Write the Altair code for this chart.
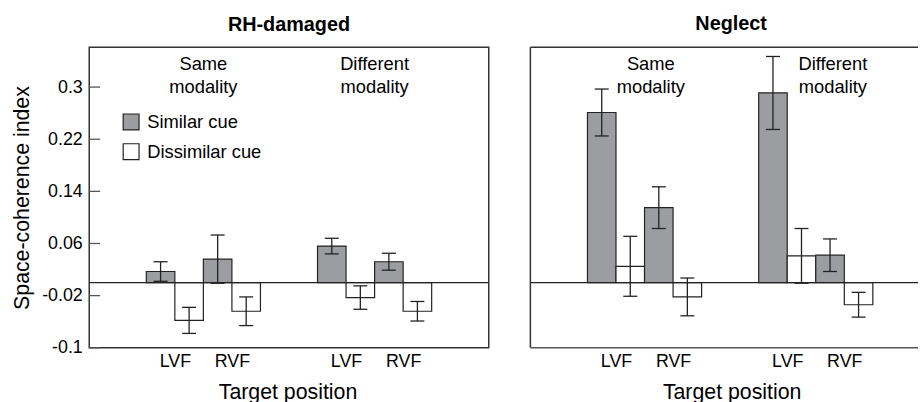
import altair as alt
import pandas as pd

# ---------------- data ----------------
groups = ["RH-damaged", "Neglect"]
modalities = ["Same", "Different"]
fields = ["LVF", "RVF"]
cues = ["Similar cue", "Dissimilar cue"]

# order: Same-LVF-sim, Same-LVF-dis, Same-RVF-sim, Same-RVF-dis, Diff-LVF-sim, ...
rh_mean = [0.017, -0.058, 0.036, -0.044, 0.056, -0.023, 0.032, -0.044]
rh_err = [0.015, 0.020, 0.037, 0.022, 0.012, 0.018, 0.013, 0.015]
ng_mean = [0.261, 0.025, 0.115, -0.022, 0.291, 0.041, 0.042, -0.034]
ng_err = [0.036, 0.046, 0.032, 0.029, 0.056, 0.042, 0.025, 0.019]

y_ticks = [-0.1, -0.02, 0.06, 0.14, 0.22, 0.3]

FONT = "Liberation Sans"
INK = "#222222"
GRAY = "#9c9da1"
H = 303
SLOT = 403 / 14


def build(means, errs):
    rows = []
    for i, m in enumerate(modalities):
        for j, f in enumerate(fields):
            for k, c in enumerate(cues):
                idx = i * 4 + j * 2 + k
                slot = 2 + 6 * i + 2 * j + k
                v, e = means[idx], errs[idx]
                rows.append(dict(modality=m, field=f, cue=c, mean=v,
                                 x0=slot, x1=slot + 1, xc=slot + 0.5,
                                 cl=slot + 0.255, cr=slot + 0.745,
                                 lo=v - e, hi=v + e))
    return pd.DataFrame(rows)


pair_centers = [2 + 6 * i + 2 * j + 1 for i in range(2) for j in range(2)]


def panel(name, means, errs, width, text_nudge, show_y, title_dx, title_x, frame_rules):
    df = build(means, errs)
    xmax = width / SLOT
    xs = alt.Scale(domain=[0, xmax], nice=False, zero=False)
    ys = alt.Scale(domain=[-0.1, 0.361], nice=False, zero=False)
    xaxis = alt.Axis(values=pair_centers,
                     labelExpr="datum.value % 6 == 3 ? 'LVF' : 'RVF'",
                     ticks=False, domain=False, grid=False,
                     labelPadding=5, title="Target position",
                     titleX=title_x, titlePadding=11)
    if show_y:
        yaxis = alt.Axis(values=y_ticks, ticks=False, domain=False, grid=False,
                         labelExpr="replace(format(datum.value, '~g'), '\u2212', '-')",
                         labelPadding=7, title="Space-coherence index",
                         titlePadding=8)
    else:
        yaxis = None
    fill = alt.Fill("cue:N", scale=alt.Scale(domain=cues, range=[GRAY, "white"]),
                    legend=alt.Legend(orient="none", legendX=33, legendY=66,
                                      title=None, symbolType="square",
                                      symbolSize=256, symbolStrokeColor=INK,
                                      symbolStrokeWidth=1.2, labelFontSize=18.5,
                                      labelOffset=7, rowPadding=8,
                                      labelColor="black", labelFont=FONT))
    base = alt.Chart(df)
    bars = base.mark_bar(stroke=INK, strokeWidth=1.2).encode(
        x=alt.X("x0:Q", scale=xs, axis=xaxis),
        x2="x1:Q",
        y=alt.Y("mean:Q", scale=ys, axis=yaxis),
        y2=alt.datum(0),
        fill=fill,
    )
    whisk = base.mark_rule(color=INK, strokeWidth=1.3).encode(
        x="xc:Q", y="lo:Q", y2="hi:Q")
    cap_hi = base.mark_rule(color=INK, strokeWidth=1.3).encode(
        x="cl:Q", x2="cr:Q", y="hi:Q")
    cap_lo = base.mark_rule(color=INK, strokeWidth=1.3).encode(
        x="cl:Q", x2="cr:Q", y="lo:Q")
    one = pd.DataFrame({"z": [0]})
    zero = alt.Chart(one).mark_rule(color=INK, strokeWidth=1.3).encode(
        x=alt.value(0), x2=alt.value(width), y=alt.datum(0))
    lab = pd.DataFrame({
        "x": [2 + 6 * i + 2 + text_nudge[i] for i in range(2)],
        "t": [m + "\nmodality" for m in modalities],
    })
    text = alt.Chart(lab).mark_text(font=FONT, fontSize=18.5, lineBreak="\n",
                                    baseline="alphabetic", lineHeight=23,
                                    color="black").encode(
        x="x:Q", y=alt.value(23), text="t:N")
    layers = [bars, whisk, cap_hi, cap_lo, zero, text]
    if show_y:
        tk = alt.Chart(pd.DataFrame({"t": y_ticks})).mark_rule(
            color="#555555", strokeWidth=1.3).encode(
            x=alt.value(0), x2=alt.value(11), y="t:Q")
        layers.append(tk)
    if frame_rules:
        fc = "#333333"
        top = alt.Chart(one).mark_rule(color=fc, strokeWidth=1.5).encode(
            x=alt.value(0), x2=alt.value(width), y=alt.value(0))
        left = alt.Chart(one).mark_rule(color=fc, strokeWidth=1.5).encode(
            x=alt.value(0), y=alt.value(0), y2=alt.value(H))
        bot = alt.Chart(one).mark_rule(color="#555555", strokeWidth=1.5).encode(
            x=alt.value(0), x2=alt.value(width), y=alt.value(H))
        layers += [top, left, bot]
    ch = alt.layer(*layers).properties(
        width=width, height=H,
        title=alt.TitleParams(name, dx=title_dx),
    )
    if frame_rules:
        ch = ch.properties(view=alt.ViewBackground(stroke="transparent"))
    return ch


left = panel(groups[0], rh_mean, rh_err, 403, [0, 0], True, 0, 200, False)
right = panel(groups[1], ng_mean, ng_err, 391, [0.22, 0.6], False, 7, 203, True)

chart = alt.hconcat(left, right, spacing=38).properties(
    padding={"left": 11, "top": 11, "right": 0, "bottom": 0}
).configure_view(
    stroke="#333333", strokeWidth=1.5
).configure_axis(
    labelFont=FONT, titleFont=FONT, labelFontSize=18, titleFontSize=21.5,
    titleFontWeight="normal", labelColor="black", titleColor="black",
).configure_title(
    font=FONT, fontSize=20, fontWeight="bold", color="black", anchor="middle",
    offset=13,
)

chart.save("out.html", embed_options={"renderer": "svg", "actions": False})
